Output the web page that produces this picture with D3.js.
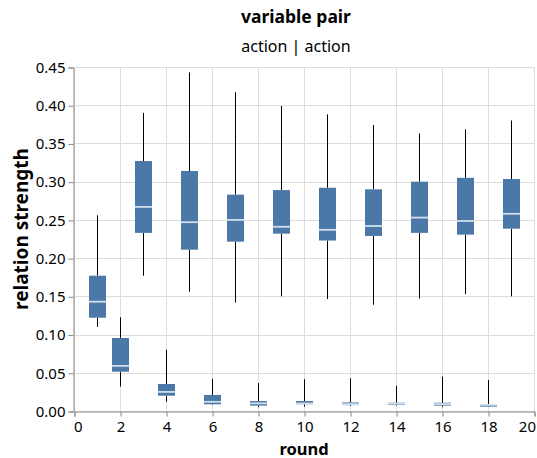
<!DOCTYPE html>
<html>
<head>
<meta charset="utf-8">
<script src="https://cdn.jsdelivr.net/npm/d3@7"></script>
<style>
  body { margin: 0; background: #fff; }
  text { font-family: "Noto Sans", sans-serif; }
</style>
</head>
<body>
<div id="chart"></div>
<script>
// values
var rounds   = [1, 2, 3, 4, 5, 6, 7, 8, 9, 10, 11, 12, 13, 14, 15, 16, 17, 18, 19];
var whiskLow = [0.110, 0.032, 0.177, 0.012, 0.156, 0.008, 0.142, 0.005, 0.150, 0.0057, 0.1465, 0.0065, 0.139, 0.007, 0.147, 0.005, 0.1527, 0.0055, 0.150];
var q1       = [0.122, 0.0514, 0.233, 0.020, 0.211, 0.0088, 0.2215, 0.007, 0.232, 0.0088, 0.223, 0.0077, 0.229, 0.0078, 0.233, 0.007, 0.2307, 0.0057, 0.2385];
var median   = [0.143, 0.059, 0.267, 0.025, 0.247, 0.012, 0.250, 0.010, 0.241, 0.0098, 0.237, 0.009, 0.242, 0.0095, 0.253, 0.009, 0.2486, 0.008, 0.258];
var q3       = [0.177, 0.0955, 0.327, 0.0353, 0.314, 0.021, 0.283, 0.013, 0.289, 0.013, 0.292, 0.0112, 0.290, 0.0108, 0.300, 0.0108, 0.305, 0.009, 0.3035];
var whiskHigh= [0.256, 0.1226, 0.390, 0.080, 0.443, 0.042, 0.417, 0.0366, 0.399, 0.0415, 0.388, 0.0428, 0.374, 0.033, 0.363, 0.045, 0.3685, 0.0405, 0.380];
var xTicks = [0, 2, 4, 6, 8, 10, 12, 14, 16, 18, 20];
var yTicks = [0, 0.05, 0.10, 0.15, 0.20, 0.25, 0.30, 0.35, 0.40, 0.45];

var W = 537, H = 458;
var margin = {top: 67, left: 74, right: 3, bottom: 47};

var svg = d3.select("#chart").append("svg")
    .attr("width", W).attr("height", H);

var x = d3.scaleLinear().domain([0, 20]).range([margin.left, W - margin.right]);
var y = d3.scaleLinear().domain([0, 0.45]).range([H - margin.bottom, margin.top]);

// grid
var grid = svg.append("g").attr("transform", "translate(0.5,0.5)");
grid.selectAll("line.gx").data(xTicks).enter().append("line")
    .attr("x1", function(d){ return x(d); }).attr("x2", function(d){ return x(d); })
    .attr("y1", y(0)).attr("y2", y(0.45))
    .attr("stroke", "#ddd");
grid.selectAll("line.gy").data(yTicks).enter().append("line")
    .attr("y1", function(d){ return Math.round(y(d)); }).attr("y2", function(d){ return Math.round(y(d)); })
    .attr("x1", x(0)).attr("x2", x(20))
    .attr("stroke", "#ddd");

var data = rounds.map(function(r, i){
  return {r: r, lo: whiskLow[i], q1: q1[i], med: median[i], q3: q3[i], hi: whiskHigh[i]};
});

var bw = 17;
var boxes = svg.append("g").selectAll("g").data(data).enter().append("g");

boxes.append("line")
    .attr("x1", function(d){ return x(d.r) + 0.5; }).attr("x2", function(d){ return x(d.r) + 0.5; })
    .attr("y1", function(d){ return y(d.lo); }).attr("y2", function(d){ return y(d.q1); })
    .attr("stroke", "#000");
boxes.append("line")
    .attr("x1", function(d){ return x(d.r) + 0.5; }).attr("x2", function(d){ return x(d.r) + 0.5; })
    .attr("y1", function(d){ return y(d.q3); }).attr("y2", function(d){ return y(d.hi); })
    .attr("stroke", "#000");
boxes.append("rect")
    .attr("x", function(d){ return x(d.r) - 8; })
    .attr("width", bw)
    .attr("y", function(d){ return y(d.q3); })
    .attr("height", function(d){ return Math.max(1, y(d.q1) - y(d.q3)); })
    .attr("fill", "#4c78a8");
boxes.append("line")
    .attr("x1", function(d){ return x(d.r) - 8; }).attr("x2", function(d){ return x(d.r) + 9; })
    .attr("y1", function(d){ return y(d.med); }).attr("y2", function(d){ return y(d.med); })
    .attr("stroke", "#d0deeb").attr("stroke-width", 1.8);

// axes
var xAxis = svg.append("g")
    .attr("transform", "translate(0.5," + (y(0) + 0.5) + ")")
    .call(d3.axisBottom(x).tickValues(xTicks).tickSize(5).tickPadding(5).tickFormat(d3.format("d")));
var yAxis = svg.append("g")
    .attr("transform", "translate(" + (x(0) - 0.5) + ",0.5)")
    .call(d3.axisLeft(y).tickValues(yTicks).tickSize(5).tickPadding(3).tickFormat(d3.format(".2f")));

[xAxis, yAxis].forEach(function(a){
  a.select(".domain").attr("stroke", "#888");
  a.selectAll(".tick line").attr("stroke", "#888");
  a.selectAll(".tick text").attr("fill", "#000")
    .style("font-family", "'Noto Sans', sans-serif").style("font-size", "15px");
});
// first and last x labels sit flush with the ends
xAxis.selectAll(".tick text").attr("text-anchor", function(d){
  return d === 0 ? "start" : (d === 20 ? "end" : "middle");
}).attr("dx", function(d){ return d === 0 ? "-1" : (d === 20 ? "1" : "0"); });

// titles
svg.append("text").attr("x", 296).attr("y", 23)
    .attr("text-anchor", "middle").style("font-size", "17.5px").style("font-weight", "bold")
    .text("variable pair");
svg.append("text").attr("x", 296).attr("y", 52)
    .attr("text-anchor", "middle").style("font-size", "16px")
    .text("action | action");
svg.append("text").attr("x", x(10)).attr("y", 454.5)
    .attr("text-anchor", "middle").style("font-size", "16.5px").style("font-weight", "bold")
    .text("round");
svg.append("text")
    .attr("transform", "translate(28," + 229 + ") rotate(-90)")
    .attr("text-anchor", "middle").style("font-size", "19px").style("font-weight", "bold")
    .text("relation strength");
</script>
</body>
</html>
